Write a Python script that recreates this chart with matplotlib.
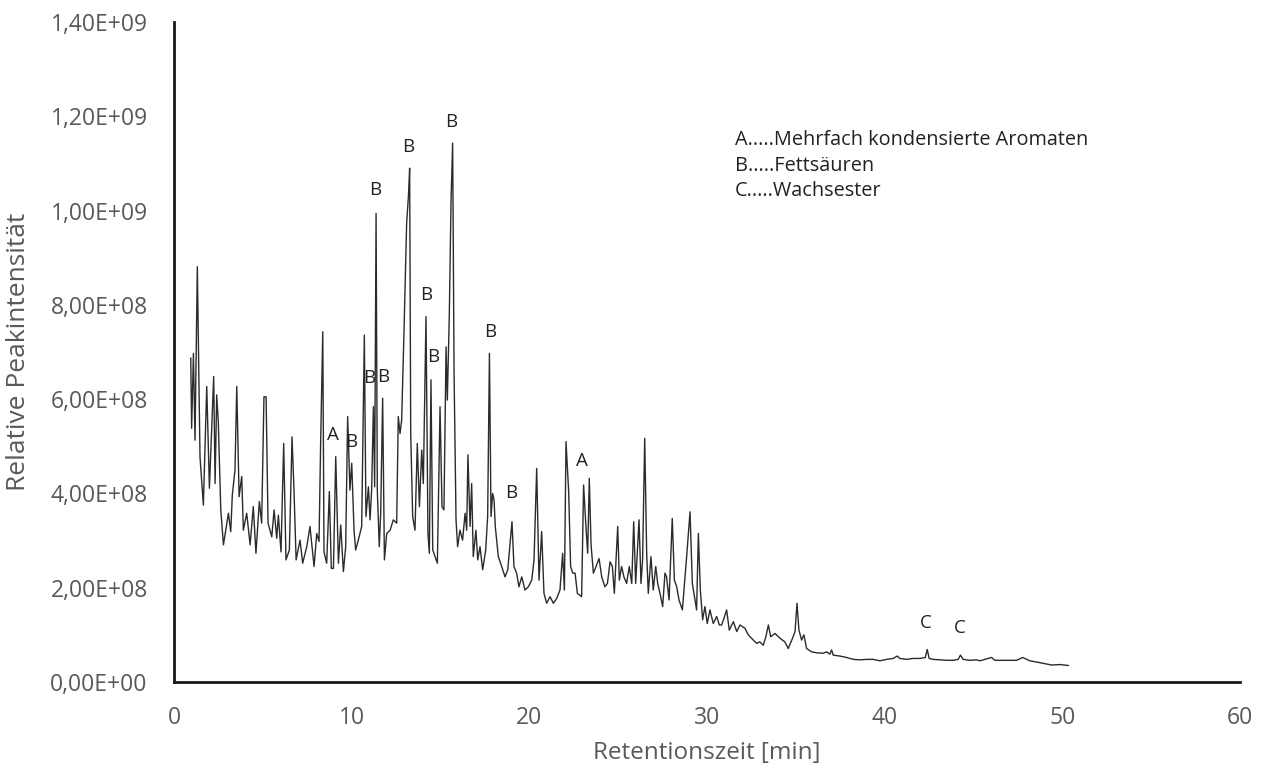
import matplotlib
matplotlib.use("Agg")
import matplotlib.pyplot as plt
from matplotlib.ticker import FuncFormatter

# --- Chromatogramm (Zeit in min, Intensität in 1E8) ---
zeit = [
    0.94, 0.99, 1.09, 1.18, 1.31, 1.46, 1.65, 1.84, 1.99, 2.23, 2.31, 2.40, 2.49, 2.63, 2.78,
    3.06, 3.19, 3.28, 3.43, 3.53, 3.66, 3.81, 3.90, 4.09, 4.28, 4.46, 4.61, 4.80, 4.93, 5.06,
    5.18, 5.29, 5.50, 5.63, 5.78, 5.87, 6.02, 6.17, 6.30, 6.49, 6.64, 6.75, 6.87, 7.09, 7.24,
    7.47, 7.65, 7.88, 8.03, 8.16, 8.25, 8.37, 8.44, 8.59, 8.74, 8.85, 8.97, 9.10, 9.25, 9.38,
    9.53, 9.66, 9.77, 9.90, 10.00, 10.13, 10.22, 10.37, 10.56, 10.71,
    10.80, 10.94, 11.03, 11.12, 11.22, 11.29, 11.37, 11.44, 11.55, 11.63, 11.74, 11.84, 11.97,
    12.16, 12.34, 12.53, 12.62, 12.72, 12.81, 12.94, 13.09, 13.19, 13.26, 13.32, 13.43, 13.56,
    13.69, 13.81, 13.94, 14.03, 14.18, 14.29, 14.37, 14.46, 14.56, 14.69, 14.82, 14.97, 15.08,
    15.19, 15.31, 15.38, 15.49, 15.59, 15.68, 15.76, 15.87, 15.96, 16.09, 16.24, 16.38, 16.47,
    16.54, 16.66, 16.75, 16.84, 16.99, 17.09, 17.22, 17.37, 17.54, 17.65, 17.75, 17.84, 17.93,
    18.01, 18.08, 18.25, 18.44, 18.63, 18.78, 18.91, 19.02, 19.13, 19.28, 19.41, 19.57, 19.75,
    19.94, 20.13, 20.26, 20.41,
    20.54, 20.69, 20.82, 20.97, 21.16, 21.35, 21.53, 21.72, 21.87, 21.97, 22.06, 22.21, 22.32,
    22.44, 22.57, 22.70, 22.94, 23.05, 23.17, 23.28, 23.37, 23.47, 23.60, 23.75, 23.92, 24.07,
    24.25, 24.39, 24.54, 24.67, 24.78, 24.97, 25.06, 25.19, 25.32, 25.47, 25.62, 25.76, 25.87,
    25.98, 26.17, 26.28, 26.37, 26.49, 26.60, 26.69, 26.84, 26.97, 27.11, 27.22, 27.35, 27.50,
    27.63, 27.72, 27.86, 28.04, 28.16, 28.29, 28.42, 28.61, 28.85, 29.04, 29.17, 29.32, 29.41,
    29.51, 29.62, 29.75, 29.88, 30.01, 30.16, 30.35, 30.54, 30.69,
    30.82, 30.95, 31.10, 31.25, 31.48, 31.67, 31.85, 32.13, 32.32, 32.60, 32.79, 32.97, 33.16,
    33.31, 33.45, 33.58, 33.82, 34.10, 34.38, 34.57, 34.81, 34.95, 35.06, 35.17, 35.32, 35.45,
    35.60, 35.88, 36.16, 36.54, 36.73, 36.91, 37.01, 37.10, 37.48, 37.85, 38.23, 38.60, 38.98,
    39.35, 39.73, 40.10, 40.48, 40.70, 40.85, 41.23, 41.60, 41.98, 42.28, 42.39, 42.50, 42.73,
    43.10, 43.48, 43.85, 44.13, 44.26, 44.41, 44.79, 45.16, 45.36, 46.01, 46.20, 46.80, 47.42,
    47.76, 48.17, 48.73, 49.39, 49.86, 50.33,
]
intensitaet = [
    6.87, 5.38, 6.97, 5.13, 8.81, 4.78, 3.75, 6.27, 4.11, 6.48, 4.21, 6.09, 5.52, 3.65, 2.91,
    3.58, 3.19, 3.97, 4.50, 6.27, 3.93, 4.36, 3.22, 3.58, 2.91, 3.72, 2.73, 3.83, 3.37, 6.05,
    6.05, 3.37, 3.08, 3.65, 3.05, 3.54, 2.76, 5.06, 2.59, 2.80, 5.20, 4.07, 2.59, 3.01, 2.52,
    2.87, 3.30, 2.45, 3.15, 2.98, 5.06, 7.43, 2.76, 2.52, 4.04, 2.41, 2.41, 4.78, 2.52, 3.33,
    2.34, 2.87, 5.63, 4.07, 4.64, 3.22, 2.80, 3.01, 3.30, 7.36,
    3.51, 4.14, 3.44, 4.07, 5.84, 4.14, 9.94, 4.07, 2.87, 3.58, 6.02, 2.59, 3.15,
    3.22, 3.44, 3.37, 5.63, 5.27, 5.56, 7.40, 9.73, 10.30, 10.90, 5.27, 3.51, 3.22,
    5.06, 3.72, 4.92, 4.21, 7.75, 3.15, 2.73, 6.41, 2.80, 2.66, 2.52, 5.84, 3.72,
    3.65, 7.11, 5.98, 7.75, 10.22, 11.43, 6.55, 3.44, 2.87, 3.22, 3.01, 3.58, 3.22,
    4.82, 3.30, 4.21, 2.66, 3.22, 2.59, 2.87, 2.38, 2.80, 3.51, 6.97, 3.51, 4.00,
    3.86, 3.30, 2.66, 2.45, 2.23, 2.38, 2.94, 3.40, 2.45, 2.31, 2.02, 2.23, 1.95,
    2.02, 2.16, 2.59, 4.53,
    2.16, 3.19, 1.88, 1.67, 1.81, 1.67, 1.77, 1.95, 2.73, 1.95, 5.10, 4.04, 2.45,
    2.31, 2.31, 1.88, 1.81, 4.18, 3.37, 2.73, 4.32, 2.91, 2.31, 2.45, 2.62, 2.23,
    2.02, 2.09, 2.55, 2.45, 1.88, 3.30, 2.16, 2.45, 2.23, 2.09, 2.45, 2.09, 3.40,
    2.09, 3.44, 2.09, 2.59, 5.17, 2.73, 1.88, 2.66, 1.95, 2.45, 2.09, 1.88, 1.60,
    2.31, 2.23, 1.74, 3.47, 2.16, 2.02, 1.74, 1.53, 2.66, 3.61, 2.09, 1.74, 1.53,
    3.15, 1.95, 1.32, 1.60, 1.24, 1.53, 1.24, 1.39, 1.21,
    1.21, 1.35, 1.53, 1.10, 1.28, 1.07, 1.21, 1.14, 1.00, 0.89, 0.82, 0.85, 0.78,
    0.96, 1.21, 0.96, 1.03, 0.93, 0.85, 0.71, 0.93, 1.07, 1.67, 1.10, 0.89, 1.00,
    0.71, 0.64, 0.62, 0.61, 0.64, 0.59, 0.68, 0.57, 0.55, 0.52, 0.48, 0.47, 0.48,
    0.48, 0.45, 0.48, 0.50, 0.55, 0.50, 0.48, 0.50, 0.50, 0.52, 0.69, 0.50, 0.48,
    0.47, 0.46, 0.46, 0.48, 0.57, 0.48, 0.46, 0.47, 0.45, 0.52, 0.46, 0.46, 0.46,
    0.52, 0.45, 0.41, 0.36, 0.37, 0.35,
]

# Beschriftungen der Peaks: (Buchstabe, Zeit, Intensität in 1E8)
peak_buchstaben = ["A", "B", "B", "B", "B", "B", "B", "B", "B", "B", "B", "A", "C", "C"]
peak_zeit = [8.95, 9.96, 10.97, 11.76, 11.31, 13.17, 15.59, 14.18, 14.58, 17.78, 18.96, 22.96, 42.32, 44.23]
peak_hoehe = [5.24, 5.10, 6.45, 6.47, 10.44, 11.35, 11.88, 8.21, 6.89, 7.42, 4.01, 4.69, 1.25, 1.15]

legende = [
    "A.....Mehrfach kondensierte Aromaten",
    "B.....Fettsäuren",
    "C.....Wachsester",
]

x_ticks = [0, 10, 20, 30, 40, 50, 60]
y_ticks = [0, 2e8, 4e8, 6e8, 8e8, 1e9, 1.2e9, 1.4e9]

plt.rcParams["font.family"] = ["Open Sans", "DejaVu Sans"]
grau = "#595959"

fig = plt.figure(figsize=(12.64, 7.75), dpi=100)
ax = fig.add_axes([0.1377, 0.12, 0.8434, 0.8516])

ax.plot(zeit, [v * 1e8 for v in intensitaet], color="#2b2b2b", linewidth=1.0)

ax.set_xlim(0, 60)
ax.set_ylim(0, 1.4e9)
ax.set_xticks(x_ticks)
ax.set_yticks(y_ticks)


def fmt_excel(v, pos):
    s = f"{v:.2E}"
    return s.replace(".", ",")


ax.yaxis.set_major_formatter(FuncFormatter(fmt_excel))
ax.tick_params(axis="both", length=0, labelsize=16.5, labelcolor=grau)
ax.tick_params(axis="y", pad=19)
ax.tick_params(axis="x", pad=17)

for side in ["top", "right"]:
    ax.spines[side].set_visible(False)
for side in ["left", "bottom"]:
    ax.spines[side].set_linewidth(2)
    ax.spines[side].set_color("#1a1a1a")

ax.set_xlabel("Retentionszeit [min]", fontsize=17.5, color=grau, labelpad=8)
ax.set_ylabel("Relative Peakintensität", fontsize=19, color=grau, labelpad=14)

for b, t, h in zip(peak_buchstaben, peak_zeit, peak_hoehe):
    ax.text(t, h * 1e8, b, ha="center", va="center", fontsize=13.5, color="#222222")

for i, zeile in enumerate(legende):
    ax.text(0.526, 0.821 - i * 0.0386, zeile, transform=ax.transAxes,
            ha="left", va="center", fontsize=14.3, color="#222222")

fig.savefig("out.png", dpi=100)
